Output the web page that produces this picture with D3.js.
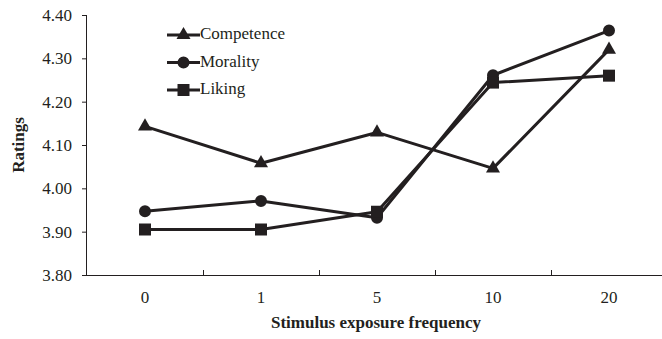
<!DOCTYPE html>
<html>
<head>
<meta charset="utf-8">
<script src="https://cdn.jsdelivr.net/npm/d3@7"></script>
<style>
  body { margin: 0; background: #fff; }
  svg { display: block; font-family: "Liberation Serif", "Times New Roman", serif; }
</style>
</head>
<body>
<svg id="chart" width="662" height="339"></svg>
<script>
const categories = ['0', '1', '5', '10', '20'];
const competence = [4.143, 4.058, 4.129, 4.046, 4.320];
const morality = [3.947, 3.971, 3.932, 4.261, 4.364];
const liking = [3.905, 3.905, 3.946, 4.244, 4.260];
const yTicks = [3.80, 3.90, 4.00, 4.10, 4.20, 4.30, 4.40];

const ink = '#231f20';
const serif = '"Liberation Serif", "Times New Roman", serif';
const margin = { top: 15, left: 87, bottom: 64 };
const W = 662, H = 339;

const svg = d3.select('#chart');

const x = d3.scaleBand()
  .domain(categories)
  .range([margin.left, margin.left + 116 * categories.length])
  .padding(0);

const y = d3.scaleLinear()
  .domain([3.8, 4.4])
  .range([H - margin.bottom, margin.top]);

// y axis
const yAxis = svg.append('g')
  .attr('transform', `translate(${margin.left},0)`)
  .call(d3.axisLeft(y).tickValues(yTicks).tickFormat(d3.format('.2f')).tickSize(5).tickPadding(10))
  .attr('font-family', serif)
  .attr('font-size', 17);
yAxis.select('.domain').attr('stroke', ink).attr('d', `M-0.5,${y(4.4)}V${y(3.8)}`);
yAxis.selectAll('.tick line').attr('stroke', ink);
yAxis.selectAll('text').attr('fill', ink);

// x axis
const xAxis = svg.append('g')
  .attr('transform', `translate(0,${y(3.8)})`)
  .call(d3.axisBottom(x).tickSize(0).tickPadding(16))
  .attr('font-family', serif)
  .attr('font-size', 17);
xAxis.select('.domain').attr('stroke', ink).attr('d', `M${margin.left},0.5H${W}`);
xAxis.selectAll('text').attr('fill', ink);

// tick marks between categories, pointing up
xAxis.selectAll('.sep')
  .data(categories.slice(1))
  .enter().append('line')
  .attr('class', 'sep')
  .attr('x1', d => Math.round(x(d)) + 0.5)
  .attr('x2', d => Math.round(x(d)) + 0.5)
  .attr('y1', 0)
  .attr('y2', -5)
  .attr('stroke', ink);

// axis titles
svg.append('text')
  .attr('x', 376)
  .attr('y', 328)
  .attr('text-anchor', 'middle')
  .attr('font-weight', 'bold')
  .attr('fill', ink)
  .style('font-size', '17px')
  .text('Stimulus exposure frequency');

svg.append('text')
  .attr('transform', `translate(24,${(y(4.4) + y(3.8)) / 2}) rotate(-90)`)
  .attr('text-anchor', 'middle')
  .attr('font-weight', 'bold')
  .attr('fill', ink)
  .style('font-size', '17px')
  .text('Ratings');

const series = [
  { name: 'Competence', values: competence, shape: d3.symbolTriangle, size: 85 },
  { name: 'Morality', values: morality, shape: d3.symbolCircle, size: 113 },
  { name: 'Liking', values: liking, shape: d3.symbolSquare, size: 144 }
];

const line = d3.line()
  .x((d, i) => x(categories[i]) + x.bandwidth() / 2)
  .y(d => y(d));

series.forEach(s => {
  svg.append('path')
    .datum(s.values)
    .attr('d', line)
    .attr('fill', 'none')
    .attr('stroke', ink)
    .attr('stroke-width', 3)
    .attr('stroke-linejoin', 'round');

  svg.selectAll(null)
    .data(s.values)
    .enter().append('path')
    .attr('d', d3.symbol(s.shape, s.size))
    .attr('transform', (d, i) => `translate(${x(categories[i]) + x.bandwidth() / 2},${y(d)})`)
    .attr('fill', ink);
});

// legend
const legend = svg.append('g');
series.forEach((s, i) => {
  const ly = 35 + i * 27.5;
  legend.append('line')
    .attr('x1', 167).attr('x2', 200)
    .attr('y1', ly).attr('y2', ly)
    .attr('stroke', ink).attr('stroke-width', 3);
  legend.append('path')
    .attr('d', d3.symbol(s.shape, s.size))
    .attr('transform', `translate(183.5,${ly})`)
    .attr('fill', ink);
  legend.append('text')
    .attr('x', 200)
    .attr('y', ly + 4)
    .attr('fill', ink)
    .style('font-size', '17px')
    .text(s.name);
});
</script>
</body>
</html>
